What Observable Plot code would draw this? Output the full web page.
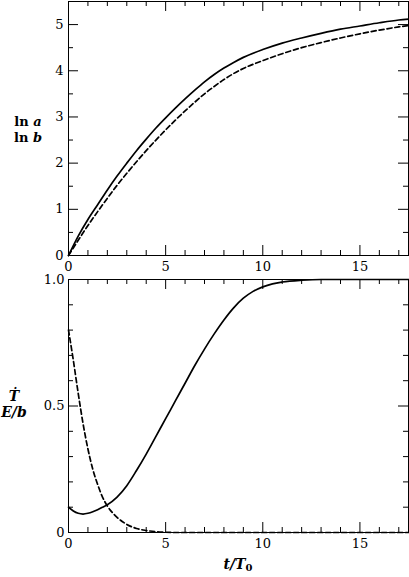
<!DOCTYPE html>
<html>
<head>
<meta charset="utf-8">
<script src="https://cdn.jsdelivr.net/npm/d3@7"></script>
<script src="https://cdn.jsdelivr.net/npm/@observablehq/plot@0.6"></script>
<style>
  html, body { margin: 0; padding: 0; background: #fff; }
  #wrap { position: relative; width: 409px; height: 577px; background: #fff; font-family: "DejaVu Serif", serif; color: #000; }
  #wrap svg text { font-family: "DejaVu Serif", serif; }
  .lab { position: absolute; font-size: 14px; line-height: 13px; font-weight: bold; white-space: nowrap; text-align: center; }
  .it { font-style: italic; }
</style>
</head>
<body>
<div id="wrap">
  <div id="topPlot" style="position:absolute;left:0;top:0"></div>
  <div id="botPlot" style="position:absolute;left:0;top:270px"></div>
  <div class="lab" style="left:8px;top:114px;width:40px;font-size:13px;line-height:16px">ln <span class="it">a</span><br>ln <span class="it">b</span></div>
  <div class="lab it" style="left:0px;top:388px;width:28px;line-height:16px">Ṫ<br>E/b</div>
  <div class="lab it" style="left:208px;top:557px;width:60px;line-height:15px">t/T<sub style="font-style:normal;font-size:10px;vertical-align:-2px">0</sub></div>
</div>
<script>
// ---- data ----
const tTop = [0, 0.5, 1, 1.5, 2, 2.5, 3, 3.5, 4, 4.5, 5, 5.5, 6, 6.5, 7, 7.5, 8, 8.5, 9, 10, 11, 12, 13, 14, 15, 16, 17, 17.5];
const lnA  = [0, 0.42, 0.78, 1.1, 1.42, 1.72, 2.0, 2.27, 2.52, 2.76, 2.98, 3.19, 3.39, 3.58, 3.76, 3.92, 4.06, 4.18, 4.29, 4.46, 4.6, 4.71, 4.81, 4.9, 4.97, 5.04, 5.1, 5.12];
const lnB  = [0, 0.33, 0.65, 0.95, 1.24, 1.52, 1.78, 2.03, 2.27, 2.5, 2.72, 2.93, 3.13, 3.32, 3.5, 3.66, 3.81, 3.94, 4.05, 4.22, 4.37, 4.5, 4.61, 4.71, 4.8, 4.88, 4.95, 4.98];

const tBot  = [0, 0.25, 0.5, 0.75, 1, 1.25, 1.5, 1.75, 2, 2.5, 3, 3.5, 4, 4.5, 5, 5.5, 6, 6.5, 7, 7.5, 8, 8.5, 9, 9.5, 10, 10.5, 11, 12, 13, 14, 15, 16, 17, 17.5];
const Tdot  = [0.1, 0.085, 0.076, 0.073, 0.076, 0.082, 0.09, 0.1, 0.11, 0.14, 0.185, 0.245, 0.31, 0.38, 0.45, 0.52, 0.59, 0.66, 0.725, 0.785, 0.84, 0.888, 0.926, 0.953, 0.971, 0.983, 0.99, 0.997, 1.0, 1.0, 1.0, 1.0, 1.0, 1.0];
const Eb    = [0.8, 0.68, 0.55, 0.43, 0.33, 0.25, 0.19, 0.14, 0.105, 0.06, 0.032, 0.016, 0.008, 0.003, 0.001, 0, 0, 0, 0, 0, 0, 0, 0, 0, 0, 0, 0, 0, 0, 0, 0, 0, 0, 0];

const xDomain = [0, 17.5];
const xLabels = [0, 5, 10, 15];
const xMajor = [5, 10, 15];
const xMinor = [1, 2, 3, 4, 6, 7, 8, 9, 11, 12, 13, 14, 16, 17];
const yTopDomain = [0, 5.5];
const yTopLabels = [0, 1, 2, 3, 4, 5];
const yTopMajor = [1, 2, 3, 4, 5];
const yTopMinor = [0.5, 1.5, 2.5, 3.5, 4.5];
const yBotDomain = [0, 1];
const yBotLabels = [0, 0.5, 1];
const yBotMajor = [0.5];
const yBotMinor = [0.1, 0.2, 0.3, 0.4, 0.6, 0.7, 0.8, 0.9];

const topData = tTop.map((t, i) => ({t, a: lnA[i], b: lnB[i]}));
const botData = tBot.map((t, i) => ({t, T: Tdot[i], E: Eb[i]}));

const W = 409, ML = 68, MR = 1;
const PW = W - ML - MR;
const MAJ = 10, MIN = 5;

function ticks(PH, yMaj, yMin) {
  return [
    Plot.tickX(xMajor, {x: d => d, insetTop: PH - MAJ, stroke: "#000"}),
    Plot.tickX(xMajor, {x: d => d, insetBottom: PH - MAJ, stroke: "#000"}),
    Plot.tickX(xMinor, {x: d => d, insetTop: PH - MIN, stroke: "#000"}),
    Plot.tickX(xMinor, {x: d => d, insetBottom: PH - MIN, stroke: "#000"}),
    Plot.tickY(yMaj, {y: d => d, insetRight: PW - MAJ, stroke: "#000"}),
    Plot.tickY(yMaj, {y: d => d, insetLeft: PW - MAJ, stroke: "#000"}),
    Plot.tickY(yMin, {y: d => d, insetRight: PW - MIN, stroke: "#000"}),
    Plot.tickY(yMin, {y: d => d, insetLeft: PW - MIN, stroke: "#000"})
  ];
}

const style = {fontFamily: "DejaVu Serif, serif", fontSize: "13px", background: "transparent", color: "#000", overflow: "visible"};

// top panel (plot area y 1..255; extra bottom room for the tick labels)
const H1 = 280, MT1 = 1, MB1 = 25;
const PH1 = H1 - MT1 - MB1;
const topPlot = Plot.plot({
  width: W, height: H1,
  marginLeft: ML, marginRight: MR, marginTop: MT1, marginBottom: MB1,
  x: {domain: xDomain, label: null},
  y: {domain: yTopDomain, label: null},
  style,
  marks: [
    ...ticks(PH1, yTopMajor, yTopMinor),
    Plot.axisX(xLabels, {anchor: "bottom", tickSize: 0, tickPadding: 6, label: null, fill: "#000"}),
    Plot.axisY(yTopLabels, {anchor: "left", tickSize: 0, tickPadding: 5, label: null, fill: "#000"}),
    Plot.line(topData, {x: "t", y: "b", stroke: "#000", strokeWidth: 1.7, strokeDasharray: "5,3", curve: "monotone-x"}),
    Plot.line(topData, {x: "t", y: "a", stroke: "#000", strokeWidth: 1.7, curve: "monotone-x"}),
    Plot.frame({stroke: "#000", strokeWidth: 1})
  ]
});
document.getElementById("topPlot").appendChild(topPlot);

// bottom panel
const H2 = 307, MT2 = 9, MB2 = 45;
const PH2 = H2 - MT2 - MB2;
const botPlot = Plot.plot({
  width: W, height: H2,
  marginLeft: ML, marginRight: MR, marginTop: MT2, marginBottom: MB2,
  x: {domain: xDomain, label: null},
  y: {domain: yBotDomain, label: null},
  style,
  marks: [
    ...ticks(PH2, yBotMajor, yBotMinor),
    Plot.axisX(xLabels, {anchor: "bottom", tickSize: 0, tickPadding: 6, label: null, fill: "#000"}),
    Plot.axisY(yBotLabels, {anchor: "left", tickSize: 0, tickPadding: 4, label: null, fill: "#000", tickFormat: d => d === 0 ? "0" : d.toFixed(1)}),
    Plot.line(botData, {x: "t", y: "E", stroke: "#000", strokeWidth: 1.7, strokeDasharray: "5,3", curve: "monotone-x"}),
    Plot.line(botData, {x: "t", y: "T", stroke: "#000", strokeWidth: 1.7, curve: "monotone-x"}),
    Plot.frame({stroke: "#000", strokeWidth: 1})
  ]
});
document.getElementById("botPlot").appendChild(botPlot);
</script>
</body>
</html>
